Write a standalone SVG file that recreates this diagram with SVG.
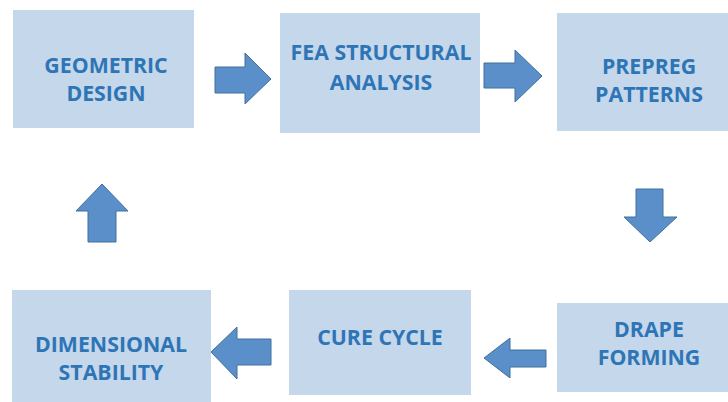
<svg xmlns="http://www.w3.org/2000/svg" width="728" height="402" viewBox="0 0 728 402">
<style>
.box{fill:#c5d7eb;}
.lbl{font-family:"Open Sans","Liberation Sans",sans-serif;font-weight:bold;font-size:21.3px;fill:#2e75b6;text-anchor:middle;}
.arr{fill:#5b8fc9;stroke:#41719c;stroke-width:1;stroke-linejoin:miter;}
</style>
<rect width="728" height="402" fill="#ffffff"/>
<g id="geometric-design">
<rect class="box" x="13" y="10" width="181" height="118"/>
<text class="lbl" x="106" y="73">GEOMETRIC</text>
<text class="lbl" x="106" y="101">DESIGN</text>
</g>
<g id="fea-structural-analysis">
<rect class="box" x="280" y="13" width="200" height="120"/>
<text class="lbl" x="381" y="60">FEA STRUCTURAL</text>
<text class="lbl" x="381" y="90">ANALYSIS</text>
</g>
<g id="prepreg-patterns">
<rect class="box" x="557" y="13" width="171" height="118"/>
<text class="lbl" x="649" y="74">PREPREG</text>
<text class="lbl" x="649" y="102">PATTERNS</text>
</g>
<g id="drape-forming">
<rect class="box" x="557" y="303" width="171" height="89"/>
<text class="lbl" x="649" y="337">DRAPE</text>
<text class="lbl" x="649" y="365">FORMING</text>
</g>
<g id="cure-cycle">
<rect class="box" x="289" y="290" width="182" height="105"/>
<text class="lbl" x="380" y="345">CURE CYCLE</text>
</g>
<g id="dimensional-stability">
<rect class="box" x="12" y="290" width="199" height="112"/>
<text class="lbl" x="111" y="352">DIMENSIONAL</text>
<text class="lbl" x="111" y="380">STABILITY</text>
</g>
<g id="connectors">
<polygon class="arr" points="215,67 245,67 245,53 271,79 245,104 245,93 215,93"/>
<polygon class="arr" points="484,63 515,63 515,50 542,76 515,102 515,88 484,88"/>
<polygon class="arr" points="636,189 663,189 663,217 677,217 650,242 624,217 636,217"/>
<polygon class="arr" points="546,350 510,350 510,338 484,358 510,378 510,367 546,367"/>
<polygon class="arr" points="271,339 237,339 237,327 211,352 237,379 237,365 271,365"/>
<polygon class="arr" points="88,242 88,211 76,211 102,184 128,211 116,211 116,242"/>
</g>
</svg>
